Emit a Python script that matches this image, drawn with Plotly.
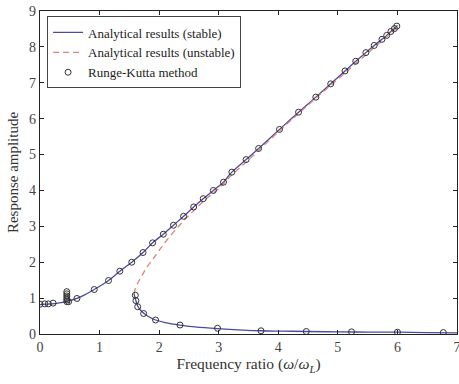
import plotly.graph_objects as go

# Stable analytical branch (upper)
stable_up_x = [0.0, 0.1, 0.2, 0.3, 0.4, 0.5, 0.62, 0.75, 0.91, 1.05, 1.15, 1.34, 1.54, 1.73, 1.89, 2.07, 2.24,
               2.41, 2.58, 2.74, 2.91, 3.08, 3.22, 3.46, 3.67, 4.02, 4.34, 4.63, 4.88, 5.12, 5.30, 5.47,
               5.61, 5.74, 5.82, 5.89, 5.95, 6.0]
stable_up_y = [0.82, 0.83, 0.84, 0.86, 0.89, 0.93, 0.99, 1.09, 1.24, 1.38, 1.49, 1.75, 2.0, 2.27, 2.54, 2.78,
               3.03, 3.28, 3.54, 3.77, 4.0, 4.23, 4.51, 4.86, 5.17, 5.70, 6.18, 6.60, 6.97, 7.33, 7.60,
               7.84, 8.04, 8.21, 8.32, 8.43, 8.51, 8.6]
# Stable analytical branch (lower)
stable_lo_x = [1.58, 1.59, 1.61, 1.64, 1.70, 1.80, 1.94, 2.1, 2.35, 2.6, 2.98, 3.4, 3.71, 4.1, 4.47, 5.0,
               5.5, 6.0, 6.5, 7.0]
stable_lo_y = [1.12, 1.05, 0.93, 0.78, 0.64, 0.51, 0.39, 0.32, 0.25, 0.2, 0.15, 0.11, 0.09, 0.08, 0.07, 0.06,
               0.055, 0.05, 0.04, 0.03]
# Unstable analytical branch
unstable_x = [1.58, 1.60, 1.65, 1.72, 1.79, 1.9, 2.0, 2.13, 2.3, 2.46, 2.63, 2.8, 3.0, 3.2, 3.5, 4.0, 4.5,
              5.0, 5.5, 6.0]
unstable_y = [1.12, 1.27, 1.45, 1.65, 1.85, 2.1, 2.33, 2.62, 2.95, 3.24, 3.52, 3.78, 4.05, 4.4, 4.85, 5.63,
              6.38, 7.1, 7.82, 8.55]
# Runge-Kutta results
rk_x = [0.0, 0.08, 0.14, 0.22, 0.45, 0.45, 0.45, 0.45, 0.45, 0.45, 0.48, 0.62, 0.91, 1.15, 1.34, 1.54,
        1.73, 1.89, 2.07, 2.24, 2.41, 2.58, 2.74, 2.91, 3.08, 3.22, 3.46, 3.67, 4.02, 4.34, 4.63, 4.88,
        5.12, 5.30, 5.47, 5.61, 5.74, 5.82, 5.89, 5.95, 5.99,
        1.60, 1.61, 1.64, 1.74, 1.94, 2.35, 2.98, 3.71, 4.47, 5.23, 6.0, 6.77]
rk_y = [0.83, 0.84, 0.84, 0.86, 1.18, 1.12, 1.06, 1.0, 0.95, 0.9, 0.9, 0.99, 1.24, 1.49, 1.75, 2.0,
        2.27, 2.54, 2.78, 3.03, 3.28, 3.54, 3.77, 4.0, 4.23, 4.51, 4.86, 5.17, 5.70, 6.18, 6.60, 6.97,
        7.33, 7.60, 7.84, 8.04, 8.21, 8.32, 8.43, 8.51, 8.58,
        1.08, 0.93, 0.76, 0.57, 0.39, 0.25, 0.16, 0.09, 0.07, 0.06, 0.05, 0.04]

x_ticks = [0, 1, 2, 3, 4, 5, 6, 7]
y_ticks = [0, 1, 2, 3, 4, 5, 6, 7, 8, 9]

stable_color = "#4a4a9e"
unstable_color = "#e08474"
font_family = "Liberation Serif, Times New Roman, serif"

fig = go.Figure()
fig.add_trace(go.Scatter(x=stable_up_x, y=stable_up_y, mode="lines",
                         line=dict(color=stable_color, width=1.3, shape="spline"),
                         name="Analytical results (stable)", legendgroup="s"))
fig.add_trace(go.Scatter(x=unstable_x, y=unstable_y, mode="lines",
                         line=dict(color=unstable_color, width=1.3, dash="6px,4px", shape="spline"),
                         name="Analytical results (unstable)"))
fig.add_trace(go.Scatter(x=stable_lo_x, y=stable_lo_y, mode="lines",
                         line=dict(color=stable_color, width=1.3, shape="spline"),
                         showlegend=False, legendgroup="s"))
fig.add_trace(go.Scatter(x=rk_x, y=rk_y, mode="markers",
                         marker=dict(symbol="circle-open", size=6, color="#333333",
                                     line=dict(width=1, color="#333333")),
                         name="Runge-Kutta method"))

axis_common = dict(showline=True, linecolor="#222222", linewidth=1.2, mirror="ticks",
                   ticks="inside", ticklen=4, tickcolor="#222222", showgrid=False, zeroline=False,
                   ticklabeloverflow="allow",
                   tickfont=dict(family=font_family, size=14, color="#444444"))

fig.update_xaxes(range=[0, 7], tickvals=x_ticks, **axis_common,
                 title=dict(text="Frequency ratio (<i>ω</i>/<i>ω</i><sub><i>L</i></sub>)",
                            font=dict(family=font_family, size=15.5, color="#333333"), standoff=4))
fig.update_yaxes(range=[0, 9], tickvals=y_ticks, **axis_common,
                 title=dict(text="Response amplitude",
                            font=dict(family=font_family, size=15, color="#333333"), standoff=6))

fig.update_layout(
    width=459, height=384,
    margin=dict(l=40, r=2, t=11, b=50, autoexpand=False),
    paper_bgcolor="white", plot_bgcolor="white",
    legend=dict(x=0.017, y=0.983, xanchor="left", yanchor="top",
                bordercolor="#444444", borderwidth=1, bgcolor="white",
                font=dict(family=font_family, size=13, color="#222222"),
                tracegroupgap=0, itemwidth=30),
)

fig.write_html("out.html")
